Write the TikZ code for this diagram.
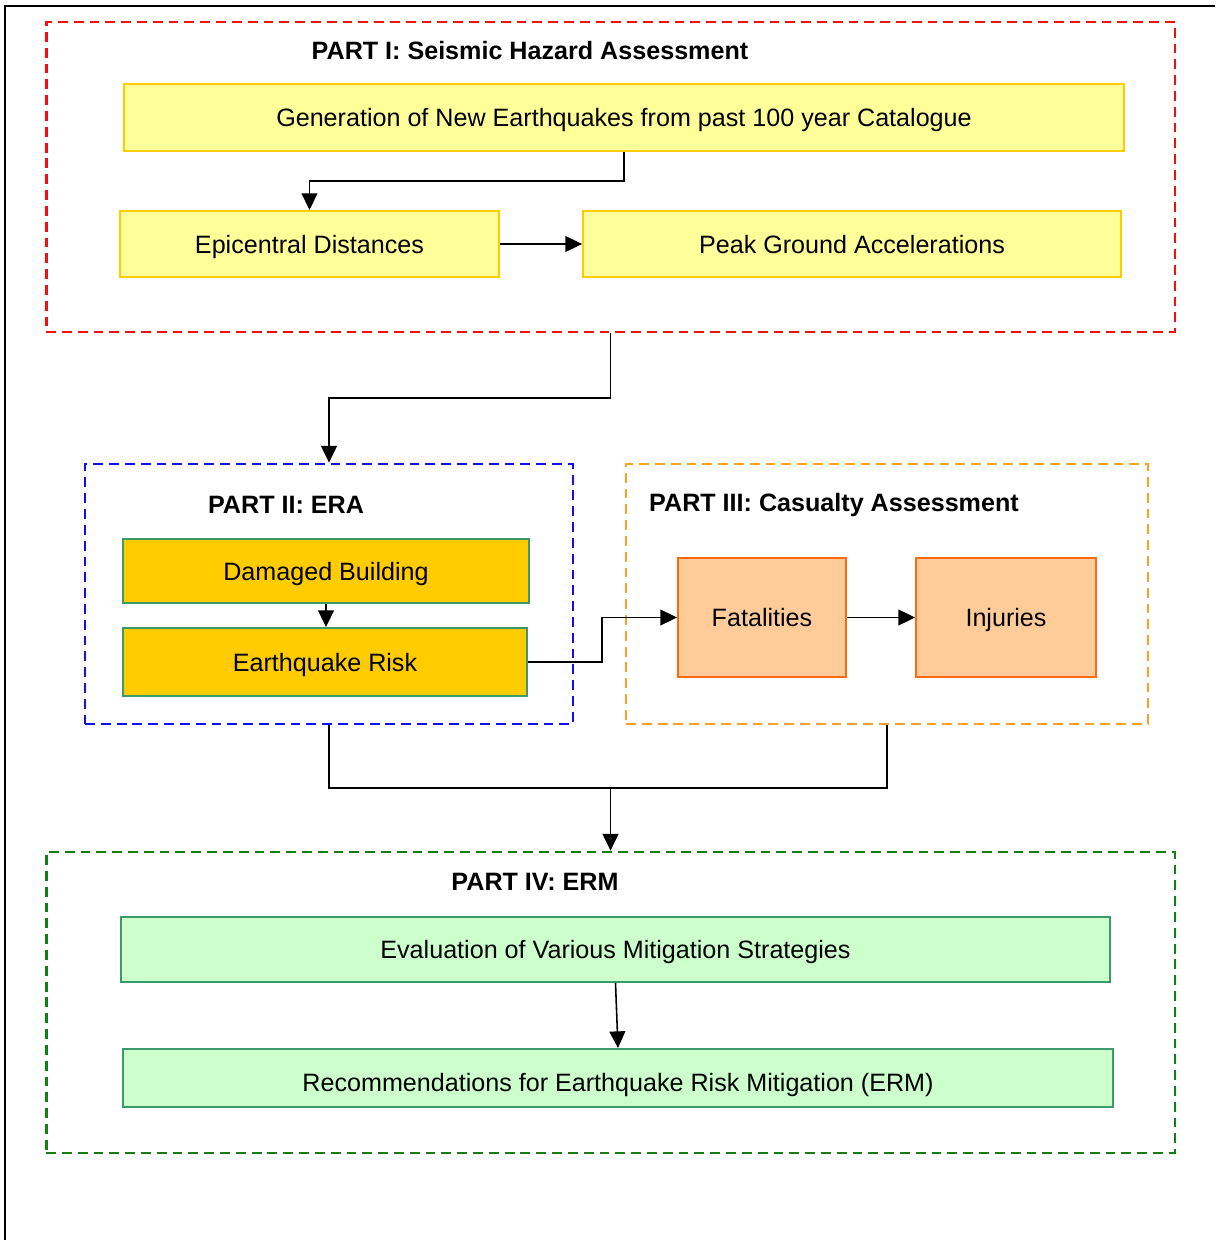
\documentclass[tikz,border=0pt]{standalone}
\usepackage{fontspec}
\setmainfont{Liberation Sans}
\usetikzlibrary{arrows.meta,calc}
\definecolor{yfill}{HTML}{FFFF99}
\definecolor{yline}{HTML}{FFCC00}
\definecolor{gfill}{HTML}{FFCC00}
\definecolor{gline}{HTML}{3C9A6A}
\definecolor{pfill}{HTML}{FFCC99}
\definecolor{pline}{HTML}{FF6A10}
\definecolor{lgfill}{HTML}{CCFFCC}
\definecolor{redd}{HTML}{F01010}
\definecolor{blued}{HTML}{1010F0}
\definecolor{oranged}{HTML}{FFA020}
\definecolor{greend}{HTML}{108010}
\tikzset{
  txt/.style={font=\fontsize{14.3pt}{17pt}\selectfont},
  ttl/.style={font=\fontsize{14.3pt}{17pt}\selectfont\bfseries, inner sep=0pt},
  boxbase/.style={rectangle, inner sep=0pt, line width=1.1pt, txt, text height=10.3pt, text depth=0pt},
  ybox/.style={boxbase, draw=yline, fill=yfill},
  gbox/.style={boxbase, draw=gline, fill=gfill},
  pbox/.style={boxbase, draw=pline, fill=pfill},
  lgbox/.style={boxbase, draw=gline, fill=lgfill},
  part/.style={rectangle, inner sep=0pt, line width=1.6pt, dash pattern=on 5.6pt off 3.4pt},
  arr/.style={line width=0.9pt, -{Triangle[length=9.5pt,width=9pt]}},
  conn/.style={line width=0.9pt},
}
\begin{document}
\begin{tikzpicture}[x=0.02cm, y=-0.02cm]
\useasboundingbox (0,0) rectangle (1215,1240);
% outer frame
\coordinate (fbl) at (5,1240);
\coordinate (ftl) at (5,6);
\coordinate (ftr) at (1215,6);
\draw[line width=1.2pt] (fbl) -- (ftl) -- (ftr);

% group frames
\node[part, draw=redd, minimum width=22.58cm, minimum height=6.2cm] (p1) at (610.5,177) {};
\node[part, draw=blued, minimum width=9.76cm, minimum height=5.2cm] (p2) at (329,594) {};
\node[part, draw=oranged, minimum width=10.44cm, minimum height=5.2cm] (p3) at (887,594) {};
\node[part, draw=greend, minimum width=22.58cm, minimum height=6.02cm] (p4) at (610.5,1002.5) {};

% titles
\node[ttl] (t1) at (530,51) {PART I: Seismic Hazard Assessment};
\node[ttl] (t2) at (286,505) {PART II: ERA};
\node[ttl] (t3) at (834,505) {PART III: Casualty Assessment};
\node[ttl] (t4) at (535,882) {PART IV: ERM};

% boxes
\node[ybox, minimum width=20cm, minimum height=1.34cm] (gen) at (624,117.5) {Generation of New Earthquakes from past 100 year Catalogue};
\node[ybox, minimum width=7.58cm, minimum height=1.32cm] (epi) at (309.5,244) {Epicentral Distances};
\node[ybox, minimum width=10.76cm, minimum height=1.32cm] (pga) at (852,244) {Peak Ground Accelerations};
\node[gbox, minimum width=8.12cm, minimum height=1.28cm] (db) at (326,571) {Damaged Building};
\node[gbox, minimum width=8.08cm, minimum height=1.36cm] (er) at (325,662) {Earthquake Risk};
\node[pbox, minimum width=3.36cm, minimum height=2.38cm] (fat) at (762,617.5) {Fatalities};
\node[pbox, minimum width=3.6cm, minimum height=2.38cm] (inj) at (1006,617.5) {Injuries};
\node[lgbox, minimum width=19.78cm, minimum height=1.3cm] (ev) at (615.5,949.5) {Evaluation of Various Mitigation Strategies};
\node[lgbox, minimum width=19.8cm, minimum height=1.16cm, text height=15.9pt] (rec) at (618,1078) {Recommendations for Earthquake Risk Mitigation (ERM)};

% connectors
\draw[arr] (gen.south) -- (gen.south |- 0,181) -| (epi.north);
\draw[arr] (epi.east) -- (pga.west);
\draw[arr] (p1.south) -- (p1.south |- 0,398) -| (p2.north);
\draw[arr] (db.south) -- (db.south |- er.north);
\coordinate (bend) at (602,640);
\draw[arr] (er.east) -| (bend) |- (fat.west);
\draw[arr] (fat.east) -- (inj.west);
\coordinate (join) at (p4.north |- 0,788);
\draw[conn] (p2.south) -- (p2.south |- join) -- (p3.south |- join) -- (p3.south);
\draw[arr] (join) -- (p4.north);
\draw[arr] (ev.south) -- (rec.north);
\end{tikzpicture}
\end{document}
